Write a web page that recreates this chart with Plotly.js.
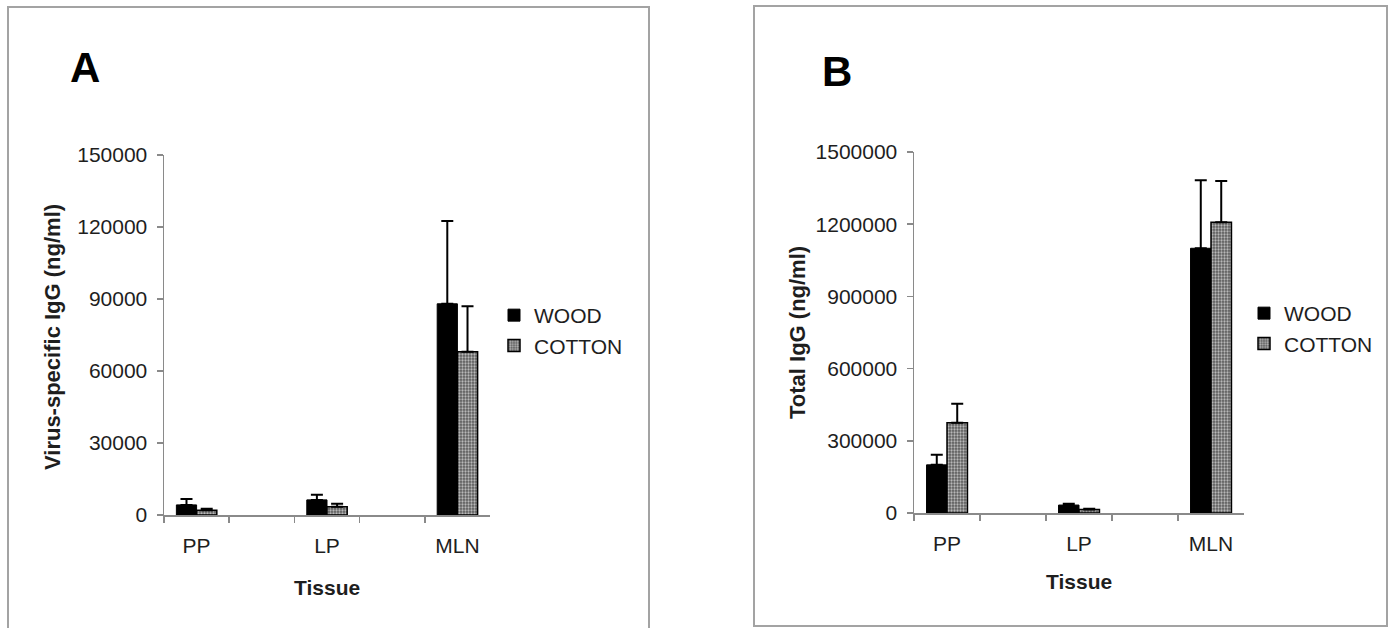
<!DOCTYPE html>
<html>
<head>
<meta charset="utf-8">
<script src="https://cdn.plot.ly/plotly-3.0.1.min.js"></script>
<style>html,body{margin:0;padding:0;background:#fff;}#chart{width:1392px;height:628px;}</style>
</head>
<body>
<div id="chart"></div>
<script>
// Category slots (two empty spacer slots between the tissues)
var slots = ['PP', 'gap1', 'LP', 'gap2', 'MLN'];
var slotLabels = ['PP', '', 'LP', '', 'MLN'];
var seriesNames = ['WOOD', 'COTTON'];

// Panel A: virus-specific IgG (ng/ml)
var woodA = [4200, null, 6300, null, 88000];
var woodAErr = [2500, null, 2100, null, 34500];
var cottonA = [2000, null, 3400, null, 68000];
var cottonAErr = [600, null, 1300, null, 19000];

// Panel B: total IgG (ng/ml)
var woodB = [200000, null, 33000, null, 1100000];
var woodBErr = [42000, null, 5000, null, 283000];
var cottonB = [375000, null, 15000, null, 1208000];
var cottonBErr = [79000, null, 3000, null, 171000];

var W = 1392, H = 628;
function px(x) { return x / W; }
function py(y) { return 1 - y / H; }

var FONT = 'Liberation Sans, Arial, sans-serif';
var TXT = '#1e1e1e';
var AX = '#8a8a8a';

function zeros(a) { return a.map(function (v) { return v === null ? null : 0; }); }

function woodTrace(y, err, xa, ya, leg) {
  return {
    type: 'bar', name: seriesNames[0], x: slots, y: y, xaxis: xa, yaxis: ya, legend: leg,
    legendgroup: leg + 'w',
    marker: { color: '#000000', line: { color: '#000000', width: 1 } },
    error_y: { type: 'data', symmetric: false, array: err, arrayminus: zeros(err), color: '#000', thickness: 2, width: 6 }
  };
}
function cottonTrace(y, err, xa, ya, leg) {
  return {
    type: 'bar', name: seriesNames[1], x: slots, y: y, xaxis: xa, yaxis: ya, legend: leg,
    legendgroup: leg + 'c',
    marker: {
      color: '#7a7a7a', line: { color: '#000000', width: 1.5 },
      pattern: { shape: '.', bgcolor: '#5c5c5c', fgcolor: '#b8b8b8', size: 3, solidity: 0.45 }
    },
    error_y: { type: 'data', symmetric: false, array: err, arrayminus: zeros(err), color: '#000', thickness: 2, width: 6 }
  };
}

var data = [
  woodTrace(woodA, woodAErr, 'x', 'y', 'legend'),
  cottonTrace(cottonA, cottonAErr, 'x', 'y', 'legend'),
  woodTrace(woodB, woodBErr, 'x2', 'y2', 'legend2'),
  cottonTrace(cottonB, cottonBErr, 'x2', 'y2', 'legend2')
];

function xAxis(domain, anchor) {
  return {
    domain: domain, anchor: anchor, type: 'category',
    categoryorder: 'array', categoryarray: slots,
    tickvals: slots, ticktext: slotLabels, tickson: 'boundaries',
    range: [-0.5, 4.5], fixedrange: true,
    showline: true, linecolor: AX, linewidth: 1.5,
    ticks: 'outside', ticklen: 6, tickcolor: AX, tickwidth: 1.5,
    showgrid: false, zeroline: false, ticklabelstandoff: 11,
    tickfont: { family: FONT, size: 21, color: TXT }
  };
}
function yAxis(domain, anchor, max, step) {
  return {
    domain: domain, anchor: anchor, range: [0, max], dtick: step, tick0: 0,
    tickformat: 'd', showline: true, linecolor: AX, linewidth: 1.5,
    ticks: 'outside', ticklen: 6, tickcolor: AX, tickwidth: 1.5,
    showgrid: false, zeroline: false, ticklabelstandoff: 5,
    tickfont: { family: FONT, size: 21, color: TXT }
  };
}

var legendCommon = {
  font: { family: FONT, size: 21, color: TXT },
  bgcolor: 'rgba(0,0,0,0)', borderwidth: 0,
  xanchor: 'left', yanchor: 'top', tracegroupgap: 7, itemwidth: 30,
  traceorder: 'normal'
};

var layout = {
  width: W, height: H,
  margin: { l: 0, r: 0, t: 0, b: 0 },
  paper_bgcolor: '#ffffff', plot_bgcolor: 'rgba(0,0,0,0)',
  barmode: 'group', bargap: 0.38, bargroupgap: 0,
  showlegend: true,
  font: { family: FONT, color: TXT },
  xaxis: xAxis([px(164), px(490)], 'y'),
  yaxis: yAxis([py(515), py(155)], 'x', 150000, 30000),
  xaxis2: xAxis([px(914), px(1244)], 'y2'),
  yaxis2: yAxis([py(513), py(152)], 'x2', 1500000, 300000),
  legend: Object.assign({}, legendCommon, { x: px(494), y: py(295) }),
  legend2: Object.assign({}, legendCommon, { x: px(1244), y: py(293) }),
  shapes: [
    { type: 'rect', xref: 'paper', yref: 'paper', x0: px(8), x1: px(649), y0: py(640), y1: py(7),
      line: { color: '#a3a3a3', width: 2 }, fillcolor: 'rgba(0,0,0,0)', layer: 'below' },
    { type: 'rect', xref: 'paper', yref: 'paper', x0: px(754), x1: px(1387), y0: py(626), y1: py(6),
      line: { color: '#a3a3a3', width: 2 }, fillcolor: 'rgba(0,0,0,0)', layer: 'below' }
  ],
  annotations: [
    { text: '<b>A</b>', xref: 'paper', yref: 'paper', x: px(85), y: py(68), showarrow: false,
      xanchor: 'center', yanchor: 'middle', font: { family: FONT, size: 42, color: '#000' } },
    { text: '<b>B</b>', xref: 'paper', yref: 'paper', x: px(837), y: py(72), showarrow: false,
      xanchor: 'center', yanchor: 'middle', font: { family: FONT, size: 42, color: '#000' } },
    { text: '<b>Virus-specific IgG (ng/ml)</b>', xref: 'paper', yref: 'paper', x: px(52), y: py(337),
      textangle: -90, showarrow: false, xanchor: 'center', yanchor: 'middle',
      font: { family: FONT, size: 22, color: TXT } },
    { text: '<b>Total IgG (ng/ml)</b>', xref: 'paper', yref: 'paper', x: px(797), y: py(333),
      textangle: -90, showarrow: false, xanchor: 'center', yanchor: 'middle',
      font: { family: FONT, size: 22, color: TXT } },
    { text: '<b>Tissue</b>', xref: 'paper', yref: 'paper', x: px(327), y: py(587), showarrow: false,
      xanchor: 'center', yanchor: 'middle', font: { family: FONT, size: 21, color: TXT } },
    { text: '<b>Tissue</b>', xref: 'paper', yref: 'paper', x: px(1079), y: py(581), showarrow: false,
      xanchor: 'center', yanchor: 'middle', font: { family: FONT, size: 21, color: TXT } }
  ]
};

Plotly.newPlot('chart', data, layout, { staticPlot: true, displayModeBar: false });
</script>
</body>
</html>
